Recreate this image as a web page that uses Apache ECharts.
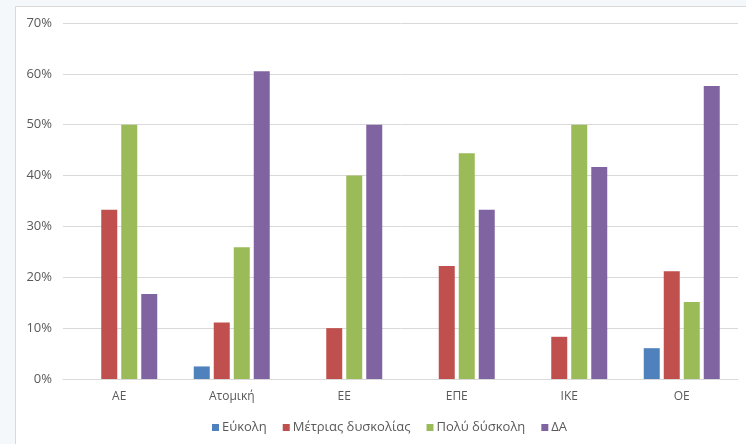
<!DOCTYPE html>
<html><head><meta charset="utf-8">
<script src="https://cdn.jsdelivr.net/npm/echarts@6/dist/echarts.min.js"></script>
<style>
html,body{margin:0;padding:0;width:746px;height:444px;background:#F4F8FB;overflow:hidden}
#frame{position:absolute;left:15px;top:6px;width:740px;height:450px;background:#fff;border:1px solid #D9D9D9;box-sizing:border-box}
#c{position:absolute;left:0;top:0;width:746px;height:444px}
</style></head>
<body><div id="frame"></div><div id="c"></div>
<script>
const categories = ["ΑΕ", "Ατομική", "ΕΕ", "ΕΠΕ", "ΙΚΕ", "ΟΕ"];
const seriesNames = ["Εύκολη", "Μέτριας δυσκολίας", "Πολύ δύσκολη", "ΔΑ"];
const eykolh = [0, 2.47, 0, 0, 0, 6.06];
const metrias = [33.3, 11.1, 10.0, 22.2, 8.3, 21.2];
const poly = [50.0, 25.9, 40.0, 44.4, 50.0, 15.15];
const da = [16.7, 60.5, 50.0, 33.3, 41.7, 57.6];
const colors = ["#4F81BD", "#C0504D", "#9BBB59", "#8064A2"];
const values = [eykolh, metrias, poly, da];

const chart = echarts.init(document.getElementById('c'), null, {renderer: 'canvas'});
const font = "'Open Sans', sans-serif";
chart.setOption({
  animation: false,
  backgroundColor: 'transparent',
  color: colors,
  grid: {left: 63, right: 8, top: 23, bottom: 65, containLabel: false},
  legend: {
    bottom: 5, left: 207, itemWidth: 7, itemHeight: 7, itemGap: 16,
    icon: 'rect',
    textStyle: {color: '#595959', fontSize: 13, fontFamily: font, padding: [0,0,0,-2]},
    data: seriesNames
  },
  xAxis: {
    type: 'category', data: categories,
    axisLine: {lineStyle: {color: '#D9D9D9', width: 1}},
    axisTick: {show: false},
    axisLabel: {color: '#595959', fontSize: 12, fontFamily: font, margin: 12}
  },
  yAxis: {
    type: 'value', min: 0, max: 70, interval: 10,
    axisLine: {show: false}, axisTick: {show: false},
    splitLine: {lineStyle: {color: '#D9D9D9', width: 1}},
    axisLabel: {color: '#595959', fontSize: 13, fontFamily: font, margin: 11, formatter: v => v + '%'}
  },
  series: seriesNames.map((n, i) => ({
    name: n, type: 'bar', data: values[i],
    barWidth: 16, barGap: '25%',
    itemStyle: {color: colors[i]}
  }))
});
</script></body></html>
